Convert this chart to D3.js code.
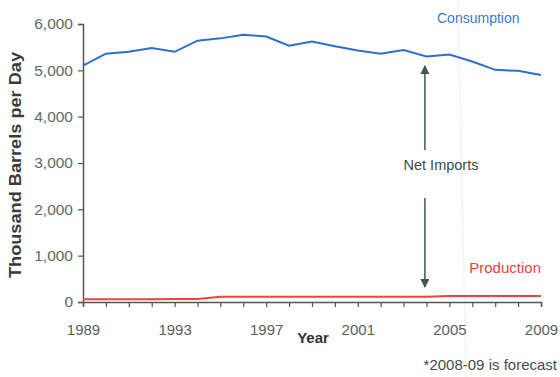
<!DOCTYPE html>
<html>
<head>
<meta charset="utf-8">
<script src="https://cdn.jsdelivr.net/npm/d3@7"></script>
<style>
  html, body { margin: 0; padding: 0; background: #fff; }
  svg { display: block; font-family: "Liberation Sans", Arial, sans-serif; }
</style>
</head>
<body>
<svg id="chart" width="560" height="377"></svg>
<script>
// Annual values, thousand barrels per day
const years = d3.range(1989, 2010);
const consumption = [5100, 5360, 5400, 5480, 5400, 5640, 5690, 5770, 5730, 5530,
                     5620, 5520, 5430, 5360, 5440, 5300, 5340, 5190, 5010, 4990, 4900];
const production = [60, 60, 62, 62, 64, 66, 112, 112, 112, 112,
                    112, 112, 112, 112, 112, 112, 132, 132, 132, 132, 132];
const yTicks = [0, 1000, 2000, 3000, 4000, 5000, 6000];
const xLabelYears = [1989, 1993, 1997, 2001, 2005, 2009];

const svg = d3.select("#chart");
const x = d3.scaleLinear().domain([1989, 2009]).range([83, 541]);
const y = d3.scaleLinear().domain([0, 6000]).range([302, 24]);

// faint forecast divider
svg.append("line")
  .attr("x1", 458).attr("y1", 0).attr("x2", 466).attr("y2", 377)
  .attr("stroke", "#e9f6f9").attr("stroke-width", 1.2);

// y axis
const yAxis = svg.append("g")
  .attr("transform", `translate(${x(1989)},0)`)
  .call(d3.axisLeft(y).tickValues(yTicks).tickSize(5).tickPadding(5)
    .tickFormat(d3.format(",")));
yAxis.select(".domain").attr("stroke", "#555").attr("stroke-width", 1.5);
yAxis.selectAll(".tick line").attr("stroke", "#555").attr("stroke-width", 1.2);
yAxis.selectAll(".tick text")
  .attr("fill", "#5d6b63").attr("font-size", 15.5)
  .attr("font-family", "Liberation Sans, Arial, sans-serif");

// x axis
const xAxis = svg.append("g")
  .attr("transform", `translate(0,${y(0)})`)
  .call(d3.axisBottom(x).tickValues(years).tickSize(5).tickPadding(17)
    .tickFormat(d => xLabelYears.includes(d) ? String(d) : ""));
xAxis.select(".domain").attr("stroke", "#555").attr("stroke-width", 1.5);
xAxis.selectAll(".tick line").attr("stroke", "#555").attr("stroke-width", 1.2);
xAxis.selectAll(".tick text")
  .attr("fill", "#5d5d5d").attr("font-size", 15)
  .attr("font-family", "Liberation Sans, Arial, sans-serif");

// lines
const line = d3.line().x((d, i) => x(years[i])).y(d => y(d));
svg.append("path").datum(production)
  .attr("d", line).attr("fill", "none")
  .attr("stroke", "#e8453c").attr("stroke-width", 2);
svg.append("path").datum(consumption)
  .attr("d", line).attr("fill", "none")
  .attr("stroke", "#2c6fd1").attr("stroke-width", 2);

// net imports arrows
const defs = svg.append("defs");
defs.append("marker").attr("id", "head")
  .attr("viewBox", "0 0 10 10").attr("refX", 9).attr("refY", 5)
  .attr("markerWidth", 11).attr("markerHeight", 9)
  .attr("markerUnits", "userSpaceOnUse").attr("orient", "auto")
  .append("path").attr("d", "M0,0 L10,5 L0,10 Z").attr("fill", "#3c5a52");

const ax = x(2003.93);
svg.append("line")
  .attr("x1", ax).attr("y1", 150).attr("x2", ax).attr("y2", 66)
  .attr("stroke", "#3c5a52").attr("stroke-width", 1.5)
  .attr("marker-end", "url(#head)");
svg.append("line")
  .attr("x1", ax).attr("y1", 198).attr("x2", ax).attr("y2", 287)
  .attr("stroke", "#3c5a52").attr("stroke-width", 1.5)
  .attr("marker-end", "url(#head)");

// labels
svg.append("text").attr("x", 441).attr("y", 170).attr("text-anchor", "middle")
  .attr("font-size", 14.5).attr("fill", "#3d4a48").text("Net Imports");
svg.append("text").attr("x", 437).attr("y", 23)
  .attr("font-size", 14).attr("fill", "#3a78d4").text("Consumption");
svg.append("text").attr("x", 541).attr("y", 273).attr("text-anchor", "end")
  .attr("font-size", 15).attr("fill", "#e8453c").text("Production");

svg.append("text").attr("x", 313).attr("y", 343).attr("text-anchor", "middle")
  .attr("font-size", 15).attr("font-weight", "bold").attr("fill", "#333")
  .text("Year");
svg.append("text")
  .attr("transform", "translate(21,165) rotate(-90)")
  .attr("text-anchor", "middle")
  .attr("font-size", 16).attr("font-weight", "bold").attr("fill", "#3a3a3a")
  .attr("textLength", 226).attr("lengthAdjust", "spacingAndGlyphs")
  .text("Thousand Barrels per Day");
svg.append("text").attr("x", 557).attr("y", 370).attr("text-anchor", "end")
  .attr("font-size", 15).attr("fill", "#4a4a4a").text("*2008-09 is forecast");
</script>
</body>
</html>
